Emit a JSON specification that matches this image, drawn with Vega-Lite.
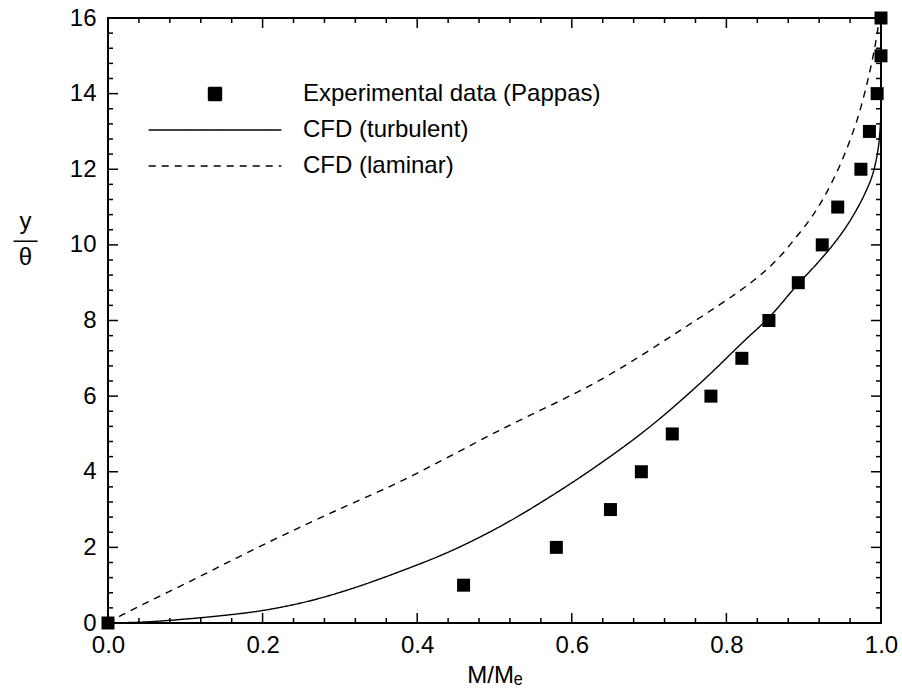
{
  "$schema": "https://vega.github.io/schema/vega-lite/v6.json",
  "width": 773,
  "height": 605,
  "autosize": {"type": "none"},
  "padding": {"left": 108, "top": 18, "right": 21, "bottom": 69},
  "background": "white",
  "config": {
    "font": "Liberation Sans",
    "view": {"stroke": "black", "strokeWidth": 2},
    "tick": {"thickness": 1.5, "color": "black", "opacity": 1},
    "axis": {
      "grid": false,
      "domain": false,
      "labelColor": "black",
      "titleColor": "black",
      "labelFontSize": 24,
      "titleFontSize": 24,
      "titleFontWeight": "normal",
      "labelOverlap": false,
      "labelFlush": false
    }
  },
  "datasets": {
    "xmajor": [{"v": 0}, {"v": 0.2}, {"v": 0.4}, {"v": 0.6}, {"v": 0.8}, {"v": 1}],
    "xminor": [{"v": 0.04}, {"v": 0.08}, {"v": 0.12}, {"v": 0.16}, {"v": 0.24}, {"v": 0.28}, {"v": 0.32}, {"v": 0.36}, {"v": 0.44}, {"v": 0.48}, {"v": 0.52}, {"v": 0.56}, {"v": 0.64}, {"v": 0.68}, {"v": 0.72}, {"v": 0.76}, {"v": 0.84}, {"v": 0.88}, {"v": 0.92}, {"v": 0.96}],
    "ymajor": [{"v": 0}, {"v": 2}, {"v": 4}, {"v": 6}, {"v": 8}, {"v": 10}, {"v": 12}, {"v": 14}, {"v": 16}],
    "yminor": [{"v": 0.4}, {"v": 0.8}, {"v": 1.2}, {"v": 1.6}, {"v": 2.4}, {"v": 2.8}, {"v": 3.2}, {"v": 3.6}, {"v": 4.4}, {"v": 4.8}, {"v": 5.2}, {"v": 5.6}, {"v": 6.4}, {"v": 6.8}, {"v": 7.2}, {"v": 7.6}, {"v": 8.4}, {"v": 8.8}, {"v": 9.2}, {"v": 9.6}, {"v": 10.4}, {"v": 10.8}, {"v": 11.2}, {"v": 11.6}, {"v": 12.4}, {"v": 12.8}, {"v": 13.2}, {"v": 13.6}, {"v": 14.4}, {"v": 14.8}, {"v": 15.2}, {"v": 15.6}],
    "pts": [
      {"x": 0.0, "y": 0, "series": "Experimental data (Pappas)"},
      {"x": 0.46, "y": 1, "series": "Experimental data (Pappas)"},
      {"x": 0.58, "y": 2, "series": "Experimental data (Pappas)"},
      {"x": 0.65, "y": 3, "series": "Experimental data (Pappas)"},
      {"x": 0.69, "y": 4, "series": "Experimental data (Pappas)"},
      {"x": 0.73, "y": 5, "series": "Experimental data (Pappas)"},
      {"x": 0.78, "y": 6, "series": "Experimental data (Pappas)"},
      {"x": 0.82, "y": 7, "series": "Experimental data (Pappas)"},
      {"x": 0.855, "y": 8, "series": "Experimental data (Pappas)"},
      {"x": 0.893, "y": 9, "series": "Experimental data (Pappas)"},
      {"x": 0.924, "y": 10, "series": "Experimental data (Pappas)"},
      {"x": 0.944, "y": 11, "series": "Experimental data (Pappas)"},
      {"x": 0.974, "y": 12, "series": "Experimental data (Pappas)"},
      {"x": 0.985, "y": 13, "series": "Experimental data (Pappas)"},
      {"x": 0.995, "y": 14, "series": "Experimental data (Pappas)"},
      {"x": 1.0, "y": 15, "series": "Experimental data (Pappas)"},
      {"x": 1.0, "y": 16, "series": "Experimental data (Pappas)"}
    ],
    "turb": [
      {"x": 0.0, "y": 0.0, "series": "CFD (turbulent)"},
      {"x": 0.04, "y": 0.02, "series": "CFD (turbulent)"},
      {"x": 0.08, "y": 0.07, "series": "CFD (turbulent)"},
      {"x": 0.14, "y": 0.18, "series": "CFD (turbulent)"},
      {"x": 0.2, "y": 0.33, "series": "CFD (turbulent)"},
      {"x": 0.26, "y": 0.58, "series": "CFD (turbulent)"},
      {"x": 0.317, "y": 0.92, "series": "CFD (turbulent)"},
      {"x": 0.38, "y": 1.38, "series": "CFD (turbulent)"},
      {"x": 0.442, "y": 1.89, "series": "CFD (turbulent)"},
      {"x": 0.507, "y": 2.55, "series": "CFD (turbulent)"},
      {"x": 0.572, "y": 3.34, "series": "CFD (turbulent)"},
      {"x": 0.637, "y": 4.22, "series": "CFD (turbulent)"},
      {"x": 0.701, "y": 5.19, "series": "CFD (turbulent)"},
      {"x": 0.766, "y": 6.34, "series": "CFD (turbulent)"},
      {"x": 0.822, "y": 7.44, "series": "CFD (turbulent)"},
      {"x": 0.856, "y": 8.1, "series": "CFD (turbulent)"},
      {"x": 0.892, "y": 8.95, "series": "CFD (turbulent)"},
      {"x": 0.917, "y": 9.5, "series": "CFD (turbulent)"},
      {"x": 0.937, "y": 9.98, "series": "CFD (turbulent)"},
      {"x": 0.953, "y": 10.42, "series": "CFD (turbulent)"},
      {"x": 0.967, "y": 10.88, "series": "CFD (turbulent)"},
      {"x": 0.979, "y": 11.35, "series": "CFD (turbulent)"},
      {"x": 0.989, "y": 11.85, "series": "CFD (turbulent)"},
      {"x": 0.996, "y": 12.5, "series": "CFD (turbulent)"},
      {"x": 0.999, "y": 13.1, "series": "CFD (turbulent)"},
      {"x": 1.0, "y": 13.6, "series": "CFD (turbulent)"},
      {"x": 1.0, "y": 16, "series": "CFD (turbulent)"}
    ],
    "lam": [
      {"x": 0.0, "y": 0.0, "series": "CFD (laminar)"},
      {"x": 0.017, "y": 0.2, "series": "CFD (laminar)"},
      {"x": 0.11, "y": 1.14, "series": "CFD (laminar)"},
      {"x": 0.196, "y": 2.02, "series": "CFD (laminar)"},
      {"x": 0.283, "y": 2.86, "series": "CFD (laminar)"},
      {"x": 0.382, "y": 3.78, "series": "CFD (laminar)"},
      {"x": 0.507, "y": 5.1, "series": "CFD (laminar)"},
      {"x": 0.637, "y": 6.43, "series": "CFD (laminar)"},
      {"x": 0.745, "y": 7.8, "series": "CFD (laminar)"},
      {"x": 0.831, "y": 8.99, "series": "CFD (laminar)"},
      {"x": 0.865, "y": 9.6, "series": "CFD (laminar)"},
      {"x": 0.89, "y": 10.2, "series": "CFD (laminar)"},
      {"x": 0.909, "y": 10.7, "series": "CFD (laminar)"},
      {"x": 0.926, "y": 11.25, "series": "CFD (laminar)"},
      {"x": 0.948, "y": 12.16, "series": "CFD (laminar)"},
      {"x": 0.969, "y": 13.3, "series": "CFD (laminar)"},
      {"x": 0.984, "y": 14.45, "series": "CFD (laminar)"},
      {"x": 0.993, "y": 15.34, "series": "CFD (laminar)"},
      {"x": 0.998, "y": 16, "series": "CFD (laminar)"}
    ]
  },
  "resolve": {"axis": {"x": "independent", "y": "independent"}},
  "layer": [
    {
      "data": {"name": "xmajor"},
      "mark": {"type": "tick", "orient": "vertical", "size": 10, "yOffset": -5},
      "encoding": {
        "x": {"field": "v", "type": "quantitative", "scale": {"domain": [0, 1], "nice": false}, "axis": null},
        "y": {"datum": 0, "type": "quantitative", "scale": {"domain": [0, 16], "nice": false}, "axis": null}
      }
    },
    {
      "data": {"name": "xminor"},
      "mark": {"type": "tick", "orient": "vertical", "size": 5, "yOffset": -2.5},
      "encoding": {
        "x": {"field": "v", "type": "quantitative", "axis": null},
        "y": {"datum": 0, "type": "quantitative", "axis": null}
      }
    },
    {
      "data": {"name": "xmajor"},
      "mark": {"type": "tick", "orient": "vertical", "size": 10, "yOffset": 5},
      "encoding": {
        "x": {"field": "v", "type": "quantitative", "axis": null},
        "y": {"datum": 16, "type": "quantitative", "axis": null}
      }
    },
    {
      "data": {"name": "xminor"},
      "mark": {"type": "tick", "orient": "vertical", "size": 5, "yOffset": 2.5},
      "encoding": {
        "x": {"field": "v", "type": "quantitative", "axis": null},
        "y": {"datum": 16, "type": "quantitative", "axis": null}
      }
    },
    {
      "data": {"name": "ymajor"},
      "mark": {"type": "tick", "orient": "horizontal", "size": 10, "xOffset": 5},
      "encoding": {
        "y": {"field": "v", "type": "quantitative", "axis": null},
        "x": {"datum": 0, "type": "quantitative", "axis": null}
      }
    },
    {
      "data": {"name": "yminor"},
      "mark": {"type": "tick", "orient": "horizontal", "size": 5, "xOffset": 2.5},
      "encoding": {
        "y": {"field": "v", "type": "quantitative", "axis": null},
        "x": {"datum": 0, "type": "quantitative", "axis": null}
      }
    },
    {
      "data": {"name": "ymajor"},
      "mark": {"type": "tick", "orient": "horizontal", "size": 10, "xOffset": -5},
      "encoding": {
        "y": {"field": "v", "type": "quantitative", "axis": null},
        "x": {"datum": 1, "type": "quantitative", "axis": null}
      }
    },
    {
      "data": {"name": "yminor"},
      "mark": {"type": "tick", "orient": "horizontal", "size": 5, "xOffset": -2.5},
      "encoding": {
        "y": {"field": "v", "type": "quantitative", "axis": null},
        "x": {"datum": 1, "type": "quantitative", "axis": null}
      }
    },
    {
      "data": {"name": "lam"},
      "mark": {"type": "line", "interpolate": "catmull-rom", "color": "black", "strokeWidth": 1.4},
      "encoding": {
        "x": {"field": "x", "type": "quantitative", "axis": null},
        "y": {"field": "y", "type": "quantitative", "axis": null},
        "order": {"field": "y", "type": "quantitative"},
        "strokeDash": {
          "field": "series", "type": "nominal",
          "scale": {"domain": ["Experimental data (Pappas)", "CFD (turbulent)", "CFD (laminar)"], "range": [[1, 0], [1, 0], [7, 6]]},
          "legend": {
            "title": null, "orient": "none", "legendX": 95, "legendY": 64,
            "labelFontSize": 24, "labelColor": "black", "labelOffset": 76, "labelLimit": 500,
            "symbolSize": 169, "rowPadding": 12, "padding": 0,
            "symbolFillColor": "black", "symbolStrokeColor": "black", "symbolStrokeWidth": 1.4,
            "encode": {"symbols": {"update": {"fill": {"value": "black"}, "stroke": {"value": "black"}, "strokeWidth": {"value": 1.4}}}}
          }
        }
      }
    },
    {
      "data": {"name": "turb"},
      "mark": {"type": "line", "interpolate": "catmull-rom", "color": "black", "strokeWidth": 1.4},
      "encoding": {
        "x": {"field": "x", "type": "quantitative", "axis": null},
        "y": {"field": "y", "type": "quantitative", "axis": null},
        "order": {"field": "y", "type": "quantitative"},
        "strokeDash": {
          "field": "series", "type": "nominal",
          "scale": {"domain": ["Experimental data (Pappas)", "CFD (turbulent)", "CFD (laminar)"], "range": [[1, 0], [1, 0], [7, 6]]}
        }
      }
    },
    {
      "data": {"name": "pts"},
      "mark": {"type": "point", "filled": true, "color": "black", "opacity": 1, "size": 169},
      "encoding": {
        "x": {"field": "x", "type": "quantitative",
          "axis": {"orient": "bottom", "title": "M/Mₑ", "labelPadding": 10, "ticks": false,
            "titleY": 59, "titleBaseline": "alphabetic",
            "values": [0, 0.2, 0.4, 0.6, 0.8, 1],
            "labelExpr": "format(datum.value, '.1f')"}},
        "y": {"field": "y", "type": "quantitative",
          "axis": {"orient": "left", "title": ["y", "—", "θ"], "titleAngle": 0, "titleX": -83, "titleY": 203,
            "titleAlign": "center", "titleBaseline": "middle", "titleLineHeight": 18,
            "labelPadding": 12, "ticks": false,
            "values": [0, 2, 4, 6, 8, 10, 12, 14, 16],
            "labelExpr": "format(datum.value, 'd')"}},
        "shape": {
          "field": "series", "type": "nominal",
          "scale": {"domain": ["Experimental data (Pappas)", "CFD (turbulent)", "CFD (laminar)"], "range": ["square", "M-10.2,0L10.2,0", "M-10.2,0L10.2,0"]},
          "legend": {
            "title": null, "orient": "none", "legendX": 95, "legendY": 64,
            "labelFontSize": 24, "labelColor": "black", "labelOffset": 76, "labelLimit": 500,
            "symbolSize": 169, "rowPadding": 12, "padding": 0,
            "symbolFillColor": "black", "symbolStrokeColor": "black", "symbolStrokeWidth": 1.4,
            "encode": {"symbols": {"update": {"fill": {"value": "black"}, "stroke": {"value": "black"}, "strokeWidth": {"value": 1.4}}}}
          }
        }
      }
    }
  ]
}
